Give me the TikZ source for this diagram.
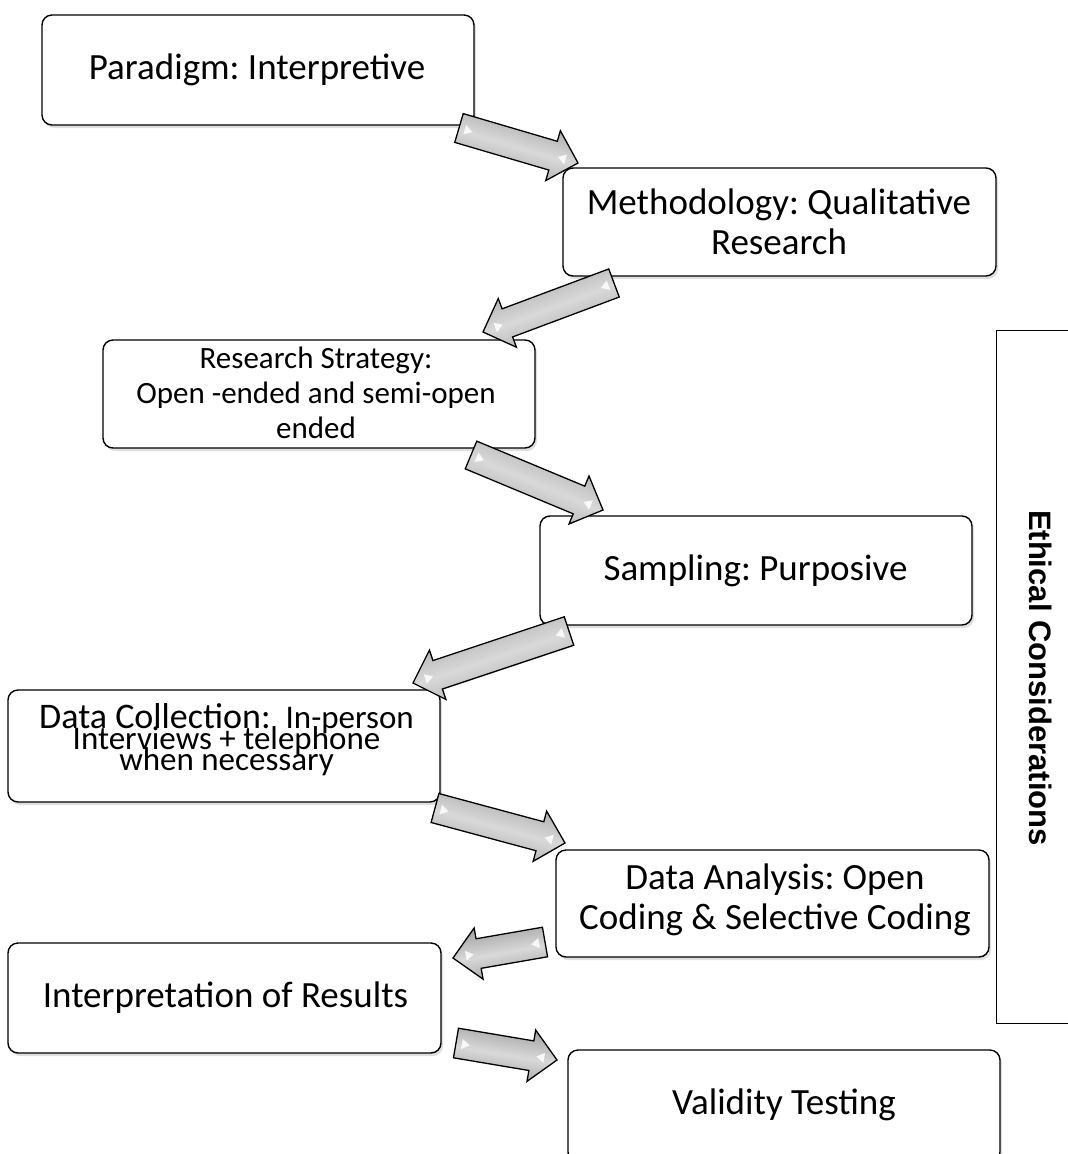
\documentclass[tikz,border=0pt]{standalone}
\usepackage{fontspec}
\setmainfont{Carlito}
\newfontfamily\arialfont{Liberation Sans}
\usetikzlibrary{calc,shadows}
\tikzset{
  box/.style={draw=black, line width=1.4pt, rounded corners=10pt, fill=white,
    drop shadow={shadow xshift=2pt, shadow yshift=-3pt, opacity=0.25}},
  boxtext/.style={align=center, inner sep=0pt, font=\frenchspacing\fontsize{37}{40}\selectfont},
  arrowbody/.style={draw=black, line width=1.3pt, line join=miter,
    top color=gray!75, bottom color=gray!75, middle color=gray!30},
  glint/.style={fill=white, opacity=0.85},
}
\newcommand\blockarrow[4]{%
  \coordinate (#3h) at ($(#2)!26pt!(#1)$);
  \coordinate (#3g) at ($(#1)!6pt!(#2)$);
  \coordinate (#3k) at ($(#2)!13pt!(#1)$);
  \path[arrowbody, shading angle=#4]
    ($(#1)!15pt!90:(#2)$) -- ($(#3h)!15pt!90:(#2)$) -- ($(#3h)!26pt!90:(#2)$)
    -- (#2) -- ($(#3h)!26pt!-90:(#2)$) -- ($(#3h)!15pt!-90:(#2)$)
    -- ($(#1)!15pt!-90:(#2)$) -- cycle;
  \fill[glint] ($(#3g)!5pt!90:(#2)$) -- ($(#3g)!5pt!-90:(#2)$) -- ($(#3g)!8pt!(#2)$) -- cycle;
  \fill[glint] ($(#3k)!5pt!90:(#1)$) -- ($(#3k)!5pt!-90:(#1)$) -- ($(#3k)!8pt!(#1)$) -- cycle;
}
\newcommand\dctext{\vbox{\frenchspacing\fontsize{33}{21}\selectfont
  \lineskiplimit=-50pt\relax\lineskip=0pt\relax\baselineskip=21pt\relax
  \halign{\hfil##\hfil\cr
    {\fontsize{36}{21}\selectfont Data Collection:}\ \ In-person\cr
    Interviews + telephone\cr
    when necessary\cr}}}
\begin{document}
\begin{tikzpicture}[x=1pt, y=-1pt]
\useasboundingbox (0,0) rectangle (1068,1154);
\fill[white] (0,0) rectangle (1068,1154);
\clip (0,0) rectangle (1068,1154);

% boxes
\node[box, minimum width=432pt, minimum height=110pt] (P) at (258,70) {};
\node[boxtext] (Pt) at (257,70) {Paradigm: Interpretive};

\node[box, minimum width=433pt, minimum height=108pt] (M) at (779.5,222) {};
\node[boxtext] (Mt) at (779,222) {Methodology: Qualitative\\Research};

\node[box, minimum width=432pt, minimum height=108pt] (R) at (319,394) {};
\node[boxtext, font=\frenchspacing\fontsize{31}{35}\selectfont] (Rt) at (316,393) {Research Strategy:\\Open -ended and semi-open\\ended};

\node[box, minimum width=432pt, minimum height=109pt] (S) at (756,570.5) {};
\node[boxtext] (St) at (755.5,571) {Sampling: Purposive};

\node[box, minimum width=432pt, minimum height=112pt] (DC) at (224,746) {};
\node[inner sep=0pt, anchor=base] (DCt) at (226.5,770) {\dctext};

\node[box, minimum width=433pt, minimum height=107pt] (DA) at (772.5,903.5) {};
\node[boxtext] (DAt) at (775,900) {Data Analysis: Open\\Coding \& Selective Coding};

\node[box, minimum width=433pt, minimum height=110pt] (I) at (224.5,998) {};
\node[boxtext] (It) at (225.5,998) {Interpretation of Results};

\node[box, minimum width=432pt, minimum height=112pt] (V) at (784,1106) {};
\node[boxtext] (Vt) at (784,1105) {Validity Testing};

% ethical considerations bracket
\coordinate (e1) at (1068,330);
\coordinate (e2) at (996,330);
\coordinate (e3) at (996,1023);
\coordinate (e4) at (1068,1023);
\draw[line width=1pt] (e1) -- (e2) -- (e3) -- (e4);
\node[rotate=-90, inner sep=0pt, font=\arialfont\bfseries\fontsize{31}{34}\selectfont] (eth) at (1041,678) {Ethical Considerations};

% block arrows
\coordinate (a1t) at (459,128);  \coordinate (a1e) at (578,163);
\coordinate (a2t) at (614,283);  \coordinate (a2e) at (483,332);
\coordinate (a3t) at (471,455);  \coordinate (a3e) at (603,510);
\coordinate (a4t) at (569,631);  \coordinate (a4e) at (413,683);
\coordinate (a5t) at (435,808);  \coordinate (a5e) at (565,843);
\coordinate (a6t) at (545,942);  \coordinate (a6e) at (453,958);
\coordinate (a7t) at (456,1043); \coordinate (a7e) at (557,1060);
\blockarrow{a1t}{a1e}{a1}{-16.4}
\blockarrow{a2t}{a2e}{a2}{20.5}
\blockarrow{a3t}{a3e}{a3}{-22.6}
\blockarrow{a4t}{a4e}{a4}{18.4}
\blockarrow{a5t}{a5e}{a5}{-15.1}
\blockarrow{a6t}{a6e}{a6}{9.9}
\blockarrow{a7t}{a7e}{a7}{-9.6}
\end{tikzpicture}
\end{document}
